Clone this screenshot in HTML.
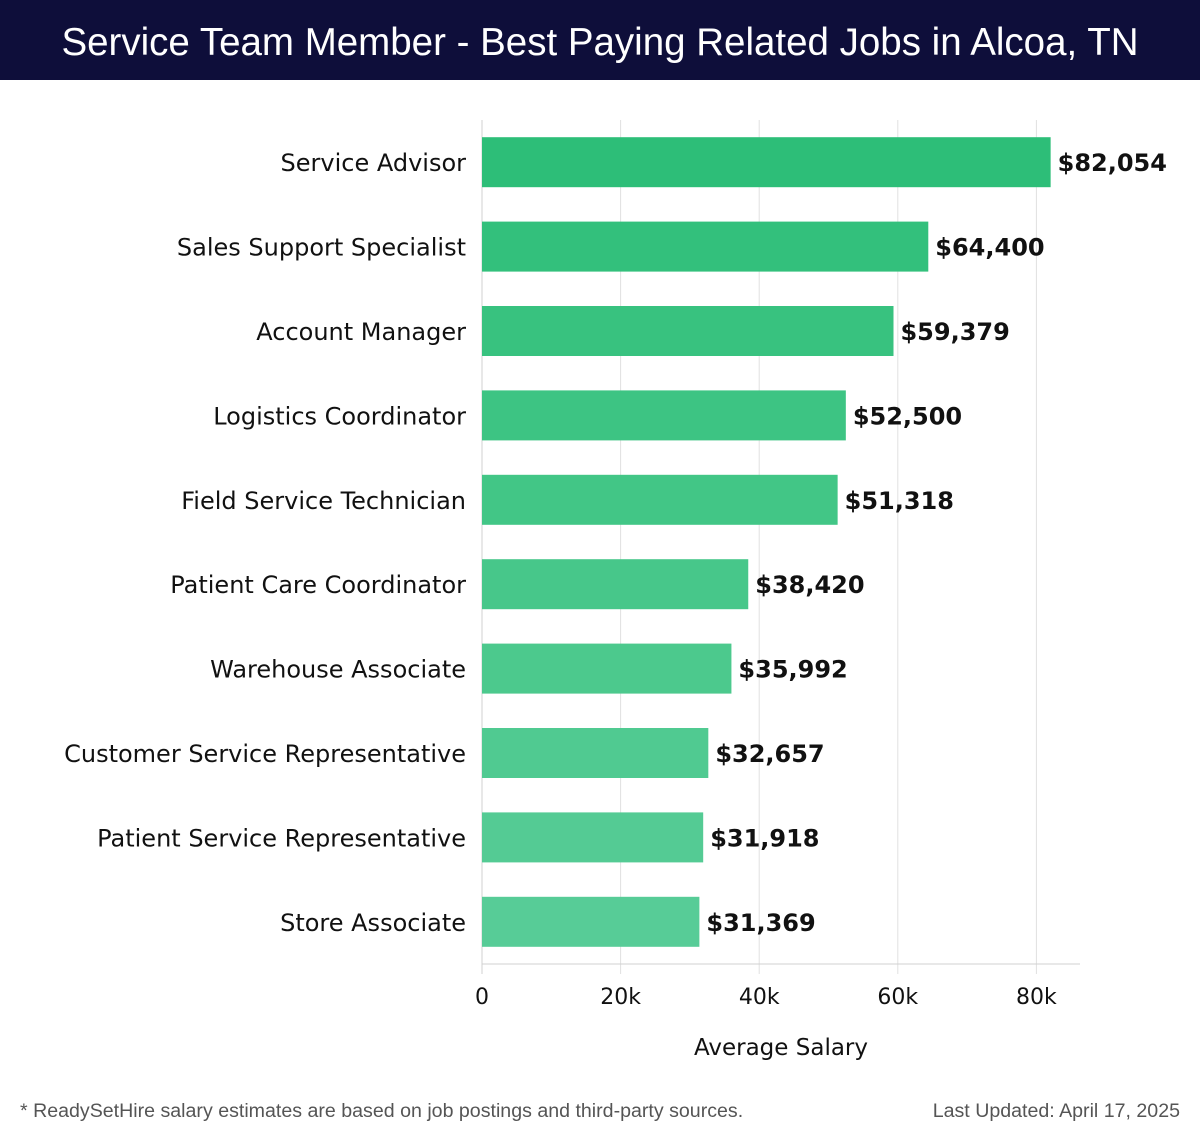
<!DOCTYPE html>
<html><head><meta charset="utf-8"><style>
body{margin:0;width:1200px;height:1140px;background:#fff;overflow:hidden;font-family:"DejaVu Sans","Liberation Sans",sans-serif;}
#title{position:absolute;left:0;top:0;width:1200px;height:80px;background:#0e0e3a;color:#fff;font-family:"Liberation Sans",sans-serif;font-size:38.5px;line-height:86px;text-align:center;}
.foot{position:absolute;top:1100px;font-family:"Liberation Sans",sans-serif;font-size:19.6px;color:#555;}
</style></head><body>
<div id="title">Service Team Member - Best Paying Related Jobs in Alcoa, TN</div>
<svg id="chart" width="1200" height="1140" style="position:absolute;left:0;top:0"></svg>
<div class="foot" style="left:20px">* ReadySetHire salary estimates are based on job postings and third-party sources.</div>
<div class="foot" style="right:20px">Last Updated: April 17, 2025</div>
<script>
const categories=["Service Advisor","Sales Support Specialist","Account Manager","Logistics Coordinator","Field Service Technician","Patient Care Coordinator","Warehouse Associate","Customer Service Representative","Patient Service Representative","Store Associate"];
const values=[82054,64400,59379,52500,51318,38420,35992,32657,31918,31369];
const valueLabels=["$82,054","$64,400","$59,379","$52,500","$51,318","$38,420","$35,992","$32,657","$31,918","$31,369"];
const tickValues=[0,20000,40000,60000,80000];
const tickLabels=["0","20k","40k","60k","80k"];
const colors=["#2dbe78","#33c07c","#38c27f","#3dc483","#42c686","#47c78a","#4cc98d","#50ca91","#54cb94","#57cc97"];
const svg=document.getElementById('chart');
const NS='http://www.w3.org/2000/svg';
const x0=482,pxPer=138.6/20000,plotTop=120,band=84.4,barH=50,plotRight=1080;
const plotBottom=plotTop+band*categories.length;
const xs=v=>x0+v*pxPer;
const yc=i=>plotTop+band*i+band/2;
function mk(t,a){const e=document.createElementNS(NS,t);for(const k in a)e.setAttribute(k,a[k]);svg.appendChild(e);return e;}
tickValues.forEach((v,i)=>{
 const g=mk('line',{x1:xs(v),x2:xs(v),y1:plotTop,y2:plotBottom+10,stroke:'#e0e0e0','stroke-width':1});
 
 
 const t=mk('text',{x:xs(v),y:plotBottom+40,'text-anchor':'middle','font-size':22,fill:'#111'});
 t.textContent=tickLabels[i];
 
 
});
const ax=mk('line',{x1:x0,x2:plotRight,y1:plotBottom,y2:plotBottom,stroke:'#d0d0d0','stroke-width':1});


const ay=mk('line',{x1:x0,x2:x0,y1:plotTop,y2:plotBottom+10,stroke:'#d0d0d0','stroke-width':1});


categories.forEach((c,i)=>{
 const r=mk('rect',{x:x0,y:yc(i)-barH/2,width:xs(values[i])-x0,height:barH,fill:colors[i]});
 
 
 const l=mk('text',{x:466,y:yc(i)+9,'text-anchor':'end','font-size':24,fill:'#111'});
 l.textContent=c;
 
 
 const v=mk('text',{x:xs(values[i])+7,y:yc(i)+9,'font-size':24,'font-weight':'bold',fill:'#111'});
 v.textContent=valueLabels[i];
 
 
});
const xt=mk('text',{x:781,y:plotBottom+91,'text-anchor':'middle','font-size':23,fill:'#111'});
xt.textContent='Average Salary';


</script>
</body></html>
